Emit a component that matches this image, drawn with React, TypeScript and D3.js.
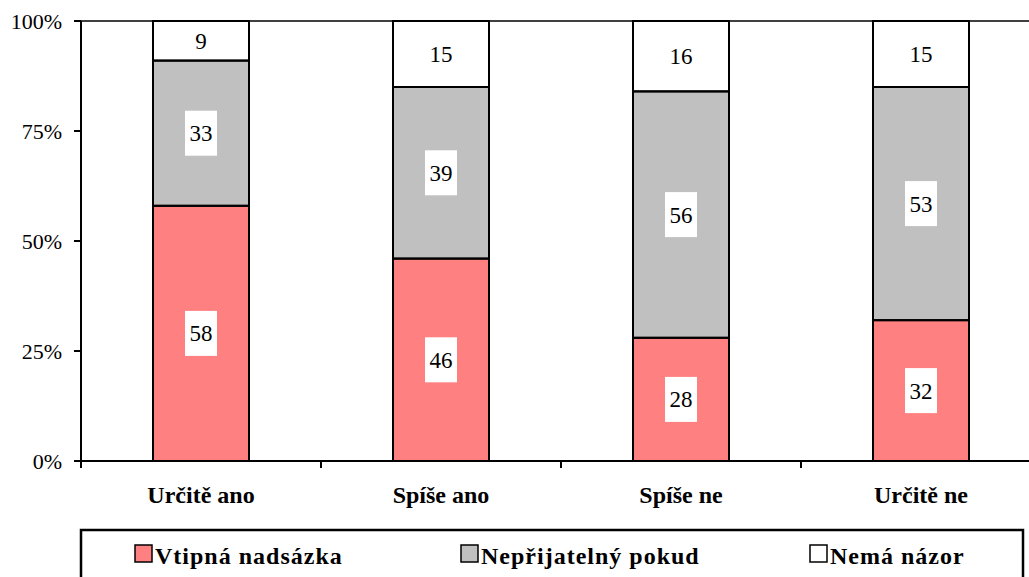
import React from "react";
import * as d3 from "d3";

const categories = ["Určitě ano", "Spíše ano", "Spíše ne", "Určitě ne"];
const seriesNames = ["Vtipná nadsázka", "Nepřijatelný pokud", "Nemá názor"];
const vtipna = [58, 46, 28, 32];
const neprijatelny = [33, 39, 56, 53];
const nemaNazor = [9, 15, 16, 15];
const yTicks = [0, 25, 50, 75, 100];
const colors = ["#FF8080", "#C0C0C0", "#FFFFFF"];

const FONT = "Liberation Serif";

export default function App() {
  const width = 1029;
  const height = 577;
  const left = 81;
  const top = 21;
  const bottom = 461;
  const band = 240;

  const rows = categories.map((c, i) => ({
    cat: c,
    s0: vtipna[i],
    s1: neprijatelny[i],
    s2: nemaNazor[i],
  }));
  const stacked = d3.stack<any>().keys(["s0", "s1", "s2"])(rows);

  const x = d3
    .scaleBand()
    .domain(categories)
    .range([left, left + band * categories.length])
    .paddingInner(0.6)
    .paddingOuter(0.3);
  const y = d3.scaleLinear().domain([0, 100]).range([bottom, top]);

  const segs = stacked.flatMap((s, i) => s.map((p) => ({ p, i })));
  const legendX = [135, 461, 810];

  return (
    <svg
      width={width}
      height={height}
      style={{ position: "absolute", left: 0, top: 0, background: "#fff", fontFamily: FONT }}
    >
      {/* line at 100% */}
      <line x1={left} x2={width} y1={y(100)} y2={y(100)} stroke="#000" strokeWidth={1.5} />

      {/* fills */}
      {segs.map((d, k) => (
        <rect
          key={"f" + k}
          x={x(d.p.data.cat)}
          width={x.bandwidth()}
          y={y(d.p[1])}
          height={y(d.p[0]) - y(d.p[1])}
          fill={colors[d.i]}
        />
      ))}

      {/* value labels */}
      {segs.map((d, k) => {
        const cx = x(d.p.data.cat)! + x.bandwidth() / 2;
        const cy = (y(d.p[0]) + y(d.p[1])) / 2;
        const h = y(d.p[0]) - y(d.p[1]);
        const bh = Math.min(45, h - 2);
        return (
          <g key={"l" + k} transform={`translate(${cx},${cy})`}>
            <rect x={-16} y={-bh / 2} width={32} height={bh} fill="#fff" />
            <text textAnchor="middle" dy="0.35em" style={{ fontFamily: FONT, fontSize: 23 }}>
              {d.p[1] - d.p[0]}
            </text>
          </g>
        );
      })}

      {/* outlines */}
      {segs.map((d, k) => (
        <rect
          key={"o" + k}
          x={x(d.p.data.cat)}
          width={x.bandwidth()}
          y={y(d.p[1])}
          height={y(d.p[0]) - y(d.p[1])}
          fill="none"
          stroke="#000"
          strokeWidth={2}
        />
      ))}

      {/* y axis */}
      <line x1={left} x2={left} y1={top} y2={bottom} stroke="#000" strokeWidth={2} />
      {yTicks.map((t) => (
        <g key={"y" + t}>
          <line x1={left - 7} x2={left} y1={y(t)} y2={y(t)} stroke="#000" strokeWidth={2} />
          <text
            x={left - 19}
            y={y(t)}
            dy="0.35em"
            textAnchor="end"
            style={{ fontFamily: FONT, fontSize: 22 }}
          >
            {`${t}%`}
          </text>
        </g>
      ))}

      {/* x axis */}
      <line x1={left - 7} x2={width} y1={bottom} y2={bottom} stroke="#000" strokeWidth={2} />
      {d3.range(categories.length + 1).map((i) => (
        <line
          key={"xt" + i}
          x1={left + band * i}
          x2={left + band * i}
          y1={bottom}
          y2={bottom + 7}
          stroke="#000"
          strokeWidth={2}
        />
      ))}
      {categories.map((c) => (
        <text
          key={c}
          x={x(c)! + x.bandwidth() / 2}
          y={503}
          textAnchor="middle"
          style={{ fontFamily: FONT, fontSize: 24, fontWeight: "bold" }}
        >
          {c}
        </text>
      ))}

      {/* legend */}
      <rect x={81} y={530} width={942} height={80} fill="#fff" stroke="#000" strokeWidth={2.5} />
      {seriesNames.map((name, i) => (
        <g key={name} transform={`translate(${legendX[i]},545)`}>
          <rect width={17} height={17} fill={colors[i]} stroke="#000" strokeWidth={1.5} />
          <text
            x={20}
            y={19}
            style={{ fontFamily: FONT, fontSize: 24, fontWeight: "bold", letterSpacing: "1px" }}
          >
            {name}
          </text>
        </g>
      ))}
    </svg>
  );
}
